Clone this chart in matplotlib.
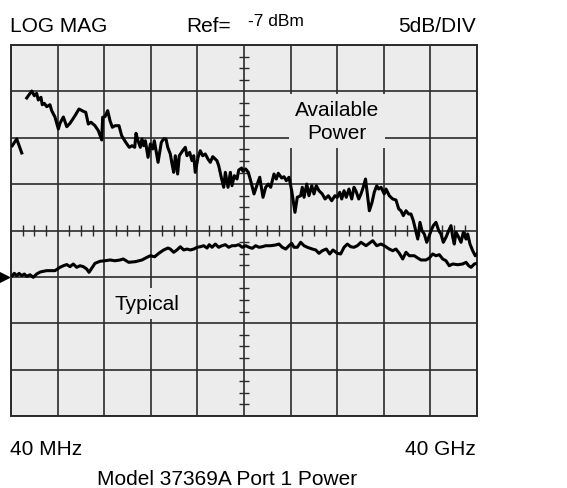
import numpy as np
import matplotlib
matplotlib.use("Agg")
import matplotlib.pyplot as plt
from matplotlib.transforms import blended_transform_factory

plt.rcParams['font.family'] = ['Liberation Sans', 'DejaVu Sans']

# analyzer settings
f_start, f_stop = 0.04, 40.0      # GHz
ref_level = -7                    # dBm
db_per_div = 5
n_xdiv, n_ydiv = 10, 8
ref_div_from_top = 5

# Available power trace (GHz, dBm) - gap in the trace near 1 GHz
avail_ghz = [0.15, 0.53, 0.96, np.nan,
             1.39, 1.82, 2.04, 2.24, 2.38, 2.61, 2.72, 2.90, 3.10, 3.38, 3.53, 3.81, 4.10, 4.24,
             4.53, 4.82, 5.10, 5.53, 5.87, 6.24, 6.45, 6.67, 6.90, 7.24, 7.53, 7.82, 7.90, 8.10,
             8.33, 8.53, 8.73, 8.96, 9.30, 9.53, 9.88, 10.18, 10.42, 10.65, 10.76, 10.93, 11.13,
             11.27, 11.42, 11.56, 11.79, 11.99, 12.19, 12.33, 12.65, 12.93, 13.13, 13.33, 13.48,
             13.70, 13.85, 13.99, 14.13, 14.33, 14.47, 14.76, 14.99, 15.13, 15.36, 15.56, 15.71,
             15.84, 16.08, 16.27, 16.48, 16.70, 16.93, 17.13, 17.34, 17.70, 17.85, 18.07, 18.28,
             18.42, 18.65, 18.85, 18.99, 19.19, 19.42, 19.57, 19.82, 19.93, 20.17, 20.39, 20.59,
             20.88, 21.16, 21.37, 21.65, 21.88, 22.10, 22.31, 22.59, 22.79, 22.96, 23.25, 23.45,
             23.65, 23.88, 24.11, 24.39, 24.59, 24.88, 25.02, 25.17, 25.40, 25.59, 25.83, 26.02,
             26.22, 26.45, 26.73, 26.97, 27.25, 27.54, 27.82, 28.02, 28.23, 28.40, 28.60, 28.79,
             29.02, 29.26, 29.45, 29.62, 29.86, 30.05, 30.25, 30.44, 30.77, 31.00, 31.19, 31.40,
             31.57, 31.77, 32.05, 32.20, 32.48, 32.77, 33.05, 33.29, 33.48, 33.68, 33.91, 34.14,
             34.34, 34.54, 34.71, 34.92, 35.11, 35.28, 35.48, 35.69, 35.86, 36.06, 36.25, 36.48,
             36.72, 36.91, 37.11, 37.34, 37.57, 37.77, 37.92, 38.05, 38.20, 38.43, 38.63, 38.83,
             39.06, 39.20, 39.40, 39.63, 39.85, 40.00]
avail_dbm = [7.14, 7.87, 6.36, np.nan,
             12.29, 13.04, 12.53, 12.79, 12.07, 12.36, 11.56, 11.71, 11.35, 11.56, 10.92, 10.24, 8.94, 9.56,
             10.24, 9.19, 9.56, 10.38, 11.10, 10.85, 10.74, 9.48, 9.67, 9.30, 8.76, 7.76, 10.21, 10.27,
             10.92, 9.84, 9.13, 9.30, 9.30, 8.22, 7.51, 6.97, 7.14, 6.97, 8.48, 7.68, 6.97,
             7.87, 7.14, 7.68, 5.89, 7.33, 6.79, 7.68, 5.35, 7.51, 7.87, 7.87, 6.97,
             6.25, 5.17, 4.27, 6.06, 4.09, 6.06, 6.60, 6.97, 6.06, 6.43, 5.53, 6.06,
             4.27, 5.89, 6.60, 6.06, 6.25, 5.71, 5.35, 5.96, 5.53, 4.99, 3.74, 2.66,
             4.27, 2.66, 4.27, 2.83, 3.91, 3.55, 4.52, 4.74, 4.38, 4.63, 4.27, 3.37,
             1.94, 3.01, 3.74, 1.58, 2.66, 3.01, 2.66, 4.09, 3.55, 4.17, 3.66, 3.80,
             3.37, 3.74, 2.29, -0.04, 1.58, 1.75, 2.66, 1.58, 3.01, 1.75, 2.83, 1.94,
             2.83, 2.29, 1.94, 1.40, 1.75, 1.21, 1.75, 1.58, 2.12, 1.40, 2.29, 1.58,
             2.47, 1.40, 2.66, 2.26, 1.40, 1.94, 2.69, 3.55, 0.13, 1.04, 2.12, 2.83,
             2.47, 2.66, 1.94, 2.47, 1.75, 1.40, 1.29, 0.32, 0.13, -0.40, 0.13, -0.22,
             -0.22, -0.94, -1.84, -2.92, -1.12, -2.02, -2.38, -3.27, -2.73, -2.02, -1.48, -1.12,
             -2.02, -2.38, -3.27, -2.73, -2.02, -1.48, -2.73, -3.46, -2.19, -2.73, -3.27, -2.19,
             -2.92, -2.38, -3.46, -4.18, -4.72, -4.53]

# Typical power trace (GHz, dBm)
typ_ghz = [0.15, 0.32, 0.53, 0.73, 0.96, 1.18, 1.39, 1.67, 1.95, 2.24, 2.53, 2.81, 3.10, 3.81,
           4.24, 4.53, 4.82, 5.10, 5.38, 5.67, 5.96, 6.24, 6.53, 6.73, 7.01, 7.24, 7.67, 8.10,
           8.53, 8.96, 9.39, 9.67, 10.13, 10.70, 11.27, 11.70, 11.99, 12.36, 12.71, 13.13, 13.50,
           13.70, 13.99, 14.27, 14.56, 14.85, 15.13, 15.42, 15.71, 15.99, 16.27, 16.56, 16.85,
           17.04, 17.28, 17.56, 17.85, 18.13, 18.42, 18.71, 18.99, 19.27, 19.57, 19.87, 20.17,
           20.45, 20.73, 21.02, 21.31, 21.59, 21.88, 22.31, 22.74, 23.02, 23.30, 23.60, 23.88,
           24.11, 24.31, 24.59, 24.88, 25.17, 25.45, 25.88, 26.17, 26.45, 26.73, 27.08, 27.37,
           27.65, 28.02, 28.31, 28.60, 28.88, 29.17, 29.45, 29.74, 30.05, 30.48, 31.06, 31.40,
           31.77, 32.05, 32.48, 32.77, 33.05, 33.34, 33.63, 33.91, 34.20, 34.62, 34.92, 35.20,
           35.63, 35.91, 36.20, 36.48, 36.77, 37.06, 37.34, 37.62, 37.92, 38.35, 38.77, 39.06,
           39.29, 39.49, 39.77, 40.00]
typ_dbm = [-6.87, -6.62, -6.87, -6.62, -6.87, -6.69, -6.94, -6.77, -7.05, -6.69, -6.48, -6.40, -6.33, -6.33,
           -5.97, -5.80, -5.67, -5.90, -5.61, -5.97, -5.80, -5.90, -6.15, -6.51, -5.97, -5.54, -5.32, -5.26,
           -5.18, -5.26, -5.18, -5.07, -5.43, -5.36, -5.18, -4.89, -4.72, -4.83, -4.46, -4.10, -3.89,
           -4.00, -4.35, -4.10, -3.75, -4.10, -4.00, -4.10, -4.00, -3.81, -3.75, -3.64, -3.89,
           -3.53, -3.81, -3.46, -3.81, -3.64, -3.53, -3.81, -3.64, -3.64, -3.53, -3.81, -3.64,
           -3.81, -3.92, -3.64, -3.81, -3.75, -3.64, -3.64, -3.56, -3.46, -3.81, -4.00, -3.64,
           -3.38, -3.81, -3.81, -3.27, -3.64, -3.81, -4.00, -4.10, -4.46, -4.18, -4.00, -4.53,
           -4.10, -4.46, -4.53, -3.81, -3.46, -3.75, -3.81, -3.64, -3.27, -3.64, -3.10, -3.64,
           -3.46, -3.64, -4.00, -4.18, -4.00, -4.46, -5.07, -4.35, -4.72, -4.72, -4.97, -5.18,
           -5.18, -4.97, -4.53, -4.72, -4.61, -5.07, -5.26, -5.80, -5.61, -5.69, -5.61, -5.43,
           -5.80, -5.97, -5.61, -5.54]

top = ref_level + db_per_div * ref_div_from_top
bottom = top - db_per_div * n_ydiv
xdiv = np.linspace(f_start, f_stop, n_xdiv + 1)
ydiv = np.linspace(bottom, top, n_ydiv + 1)

W, H = 567, 489
fig = plt.figure(figsize=(W / 100, H / 100), dpi=100)
ax = fig.add_axes([11 / W, 1 - 417 / H, 466 / W, 371 / H])
ax.set_facecolor('#ececec')
ax.set_xlim(f_start, f_stop)
ax.set_ylim(bottom, top)
ax.set_xticks(xdiv)
ax.set_yticks(ydiv)
ax.tick_params(length=0, labelbottom=False, labelleft=False)
ax.set_axisbelow(True)
ax.grid(True, color='#2b2b2b', lw=1.2)
for s in ax.spines.values():
    s.set_color('#2b2b2b')
    s.set_linewidth(1.4)

# graticule centre-line ticks (quarter divisions)
gc = '#2b2b2b'
dx = (f_stop - f_start) / n_xdiv
qx = [f_start + dx * i / 4 for i in range(4 * n_xdiv + 1) if i % 4]
qy = [bottom + db_per_div * i / 4 for i in range(4 * n_ydiv + 1) if i % 4]
ax.vlines(qx, ydiv[4] - 0.55, ydiv[4] + 0.55, color=gc, lw=1.0, zorder=1)
ax.hlines(qy, xdiv[5] - 0.45, xdiv[5] + 0.45, color=gc, lw=1.0, zorder=1)

ax.plot(avail_ghz, avail_dbm, color='black', lw=2.2, zorder=3)
ax.plot(typ_ghz, typ_dbm, color='black', lw=2.2, zorder=3)

# reference level marker
tr = blended_transform_factory(ax.transAxes, ax.transData)
ax.plot([-0.014], [ref_level], marker='>', ms=7, color='black',
        clip_on=False, transform=tr)

box = dict(boxstyle='square,pad=0.28', fc='#ececec', ec='none')
ax.text(xdiv[7], 9.8, 'Available\nPower', ha='center', va='center',
        fontsize=15, linespacing=1.3, bbox=box, zorder=4)
ax.text(11.7, -9.9, 'Typical', ha='center', va='center',
        fontsize=15, bbox=box, zorder=4)

fig.text(10 / W, 1 - 32 / H, 'LOG MAG', fontsize=15, va='baseline')
fig.text(186 / W, 1 - 32 / H, 'Ref=', fontsize=15, va='baseline')
fig.text(248 / W, 1 - 26 / H, '-7 dBm', fontsize=12.5, va='baseline')
fig.text(476 / W, 1 - 32 / H, '5dB/DIV', fontsize=15, va='baseline', ha='right')
fig.text(10 / W, 1 - 455 / H, '40 MHz', fontsize=15, va='baseline')
fig.text(476 / W, 1 - 455 / H, '40 GHz', fontsize=15, va='baseline', ha='right')
fig.text(97 / W, 1 - 485 / H, 'Model 37369A Port 1 Power', fontsize=15, va='baseline')

fig.savefig('out.png', dpi=100, facecolor='white')
